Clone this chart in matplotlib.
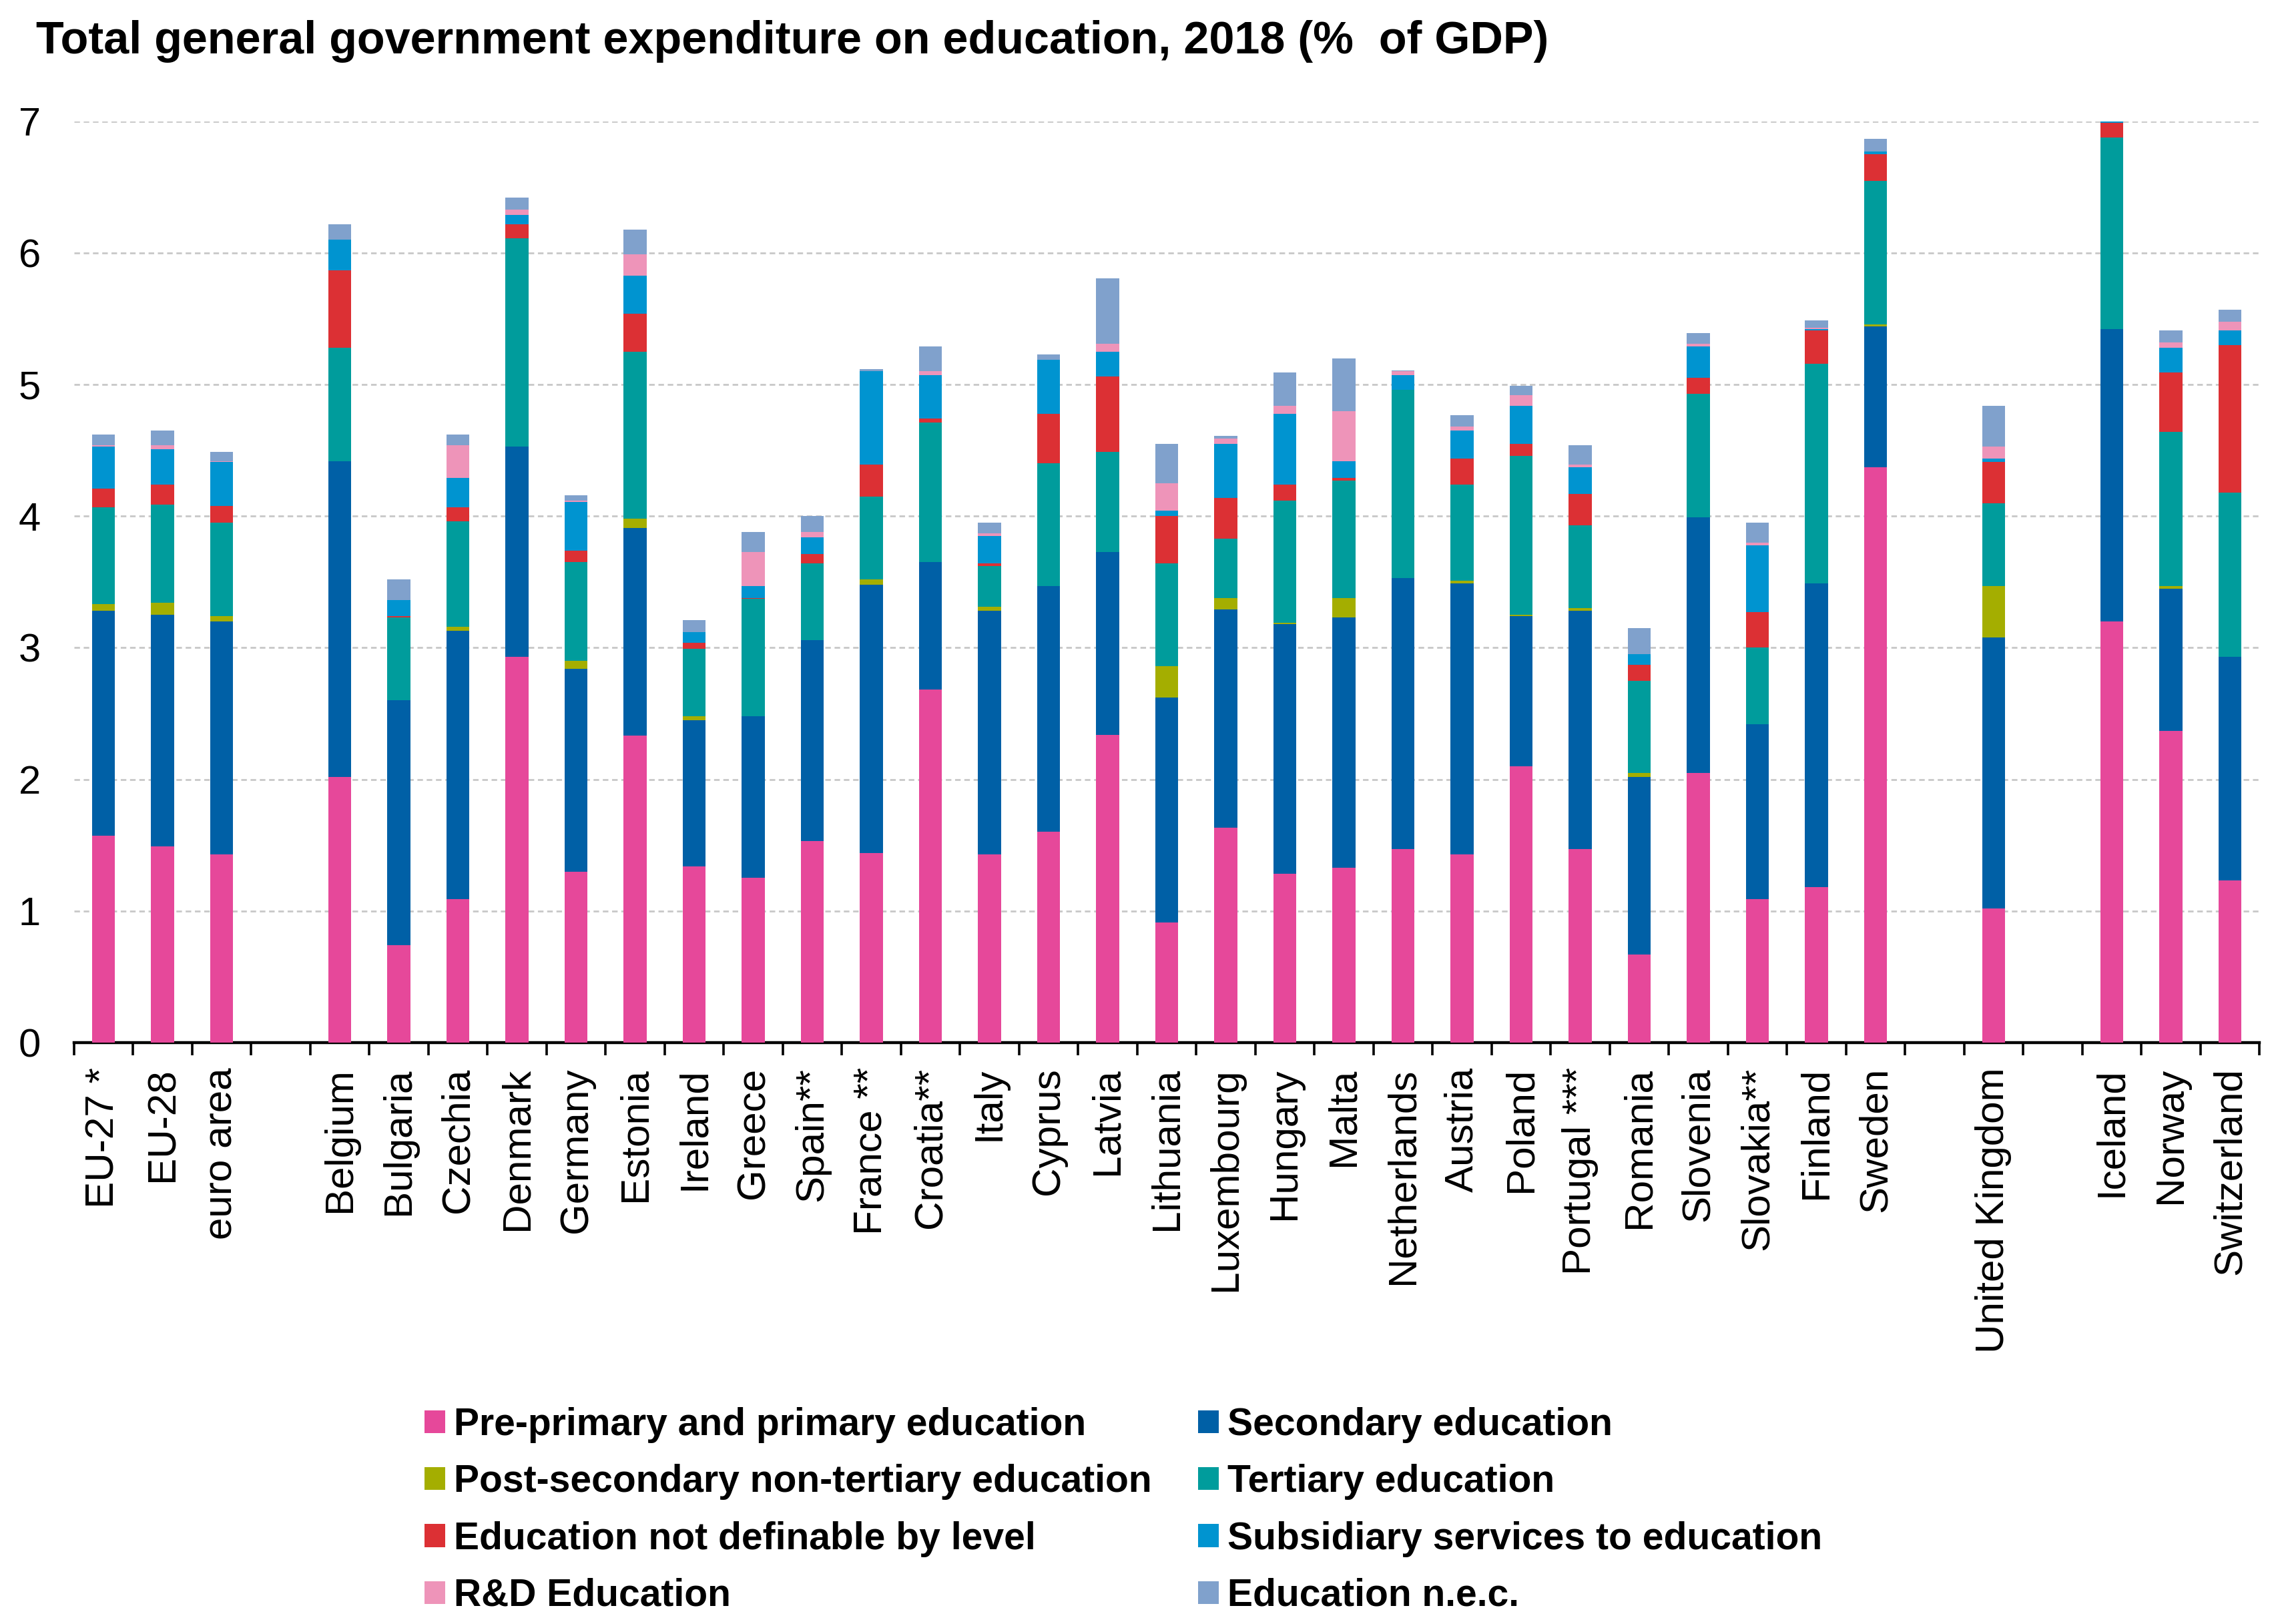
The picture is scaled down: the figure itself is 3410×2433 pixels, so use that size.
import numpy as np
import matplotlib
matplotlib.use("Agg")
import matplotlib.pyplot as plt
from matplotlib.patches import Patch

plt.rcParams['font.family'] = ['Liberation Sans', 'DejaVu Sans']

# categories (empty strings are the gap slots)
countries = ["EU-27 *", "EU-28", "euro area", "",
             "Belgium", "Bulgaria", "Czechia", "Denmark", "Germany", "Estonia",
             "Ireland", "Greece", "Spain**", "France **", "Croatia**", "Italy",
             "Cyprus", "Latvia", "Lithuania", "Luxembourg", "Hungary", "Malta",
             "Netherlands", "Austria", "Poland", "Portugal ***", "Romania",
             "Slovenia", "Slovakia**", "Finland", "Sweden", "",
             "United Kingdom", "", "Iceland", "Norway", "Switzerland"]

series_names = ["Pre-primary and primary education", "Secondary education",
                "Post-secondary non-tertiary education", "Tertiary education",
                "Education not definable by level", "Subsidiary services to education",
                "R&D Education", "Education n.e.c."]

# % of GDP, one list per series, in the order of countries
pre_primary = [1.57, 1.49, 1.43, 0,
               2.02, 0.74, 1.09, 2.93, 1.30, 2.33, 1.34, 1.25, 1.53, 1.44, 2.68, 1.43,
               1.60, 2.34, 0.91, 1.63, 1.28, 1.33, 1.47, 1.43, 2.10, 1.47, 0.67,
               2.05, 1.09, 1.18, 4.37, 0,
               1.02, 0, 3.20, 2.37, 1.23]
secondary = [1.71, 1.76, 1.77, 0,
             2.40, 1.86, 2.04, 1.60, 1.54, 1.58, 1.11, 1.23, 1.53, 2.04, 0.97, 1.85,
             1.87, 1.39, 1.71, 1.66, 1.90, 1.90, 2.06, 2.06, 1.14, 1.81, 1.35,
             1.94, 1.33, 2.31, 1.07, 0,
             2.06, 0, 2.22, 1.08, 1.70]
post_secondary = [0.05, 0.09, 0.04, 0,
                  0.00, 0.00, 0.03, 0.00, 0.06, 0.07, 0.03, 0.00, 0.00, 0.04, 0.00, 0.03,
                  0.00, 0.00, 0.24, 0.09, 0.01, 0.15, 0.00, 0.02, 0.01, 0.02, 0.03,
                  0.00, 0.00, 0.00, 0.02, 0,
                  0.39, 0, 0.00, 0.02, 0.00]
tertiary = [0.74, 0.75, 0.71, 0,
            0.86, 0.63, 0.80, 1.58, 0.75, 1.27, 0.51, 0.89, 0.58, 0.63, 1.06, 0.31,
            0.93, 0.76, 0.78, 0.45, 0.93, 0.89, 1.43, 0.73, 1.21, 0.63, 0.70,
            0.94, 0.58, 1.67, 1.09, 0,
            0.63, 0, 1.46, 1.17, 1.25]
not_definable = [0.14, 0.15, 0.13, 0,
                 0.59, 0.01, 0.11, 0.11, 0.09, 0.29, 0.05, 0.01, 0.07, 0.24, 0.03, 0.02,
                 0.38, 0.57, 0.36, 0.31, 0.12, 0.02, 0.00, 0.20, 0.09, 0.24, 0.12,
                 0.12, 0.27, 0.25, 0.20, 0,
                 0.31, 0, 0.11, 0.45, 1.12]
subsidiary = [0.32, 0.27, 0.33, 0,
              0.23, 0.12, 0.22, 0.07, 0.37, 0.29, 0.08, 0.09, 0.13, 0.71, 0.33, 0.21,
              0.41, 0.19, 0.04, 0.41, 0.54, 0.13, 0.11, 0.21, 0.29, 0.20, 0.08,
              0.24, 0.51, 0.01, 0.02, 0,
              0.03, 0, 0.02, 0.19, 0.11]
rd_education = [0.01, 0.03, 0.01, 0,
                0.00, 0.00, 0.25, 0.04, 0.01, 0.16, 0.00, 0.26, 0.04, 0.00, 0.03, 0.02,
                0.00, 0.06, 0.21, 0.04, 0.06, 0.38, 0.03, 0.03, 0.08, 0.02, 0.00,
                0.02, 0.02, 0.01, 0.00, 0,
                0.09, 0, 0.00, 0.04, 0.07]
nec = [0.08, 0.11, 0.07, 0,
       0.12, 0.16, 0.08, 0.09, 0.04, 0.19, 0.09, 0.15, 0.12, 0.02, 0.19, 0.08,
       0.04, 0.50, 0.30, 0.02, 0.25, 0.40, 0.01, 0.09, 0.07, 0.15, 0.20,
       0.08, 0.15, 0.06, 0.10, 0,
       0.31, 0, 0.00, 0.09, 0.09]

series = [pre_primary, secondary, post_secondary, tertiary,
          not_definable, subsidiary, rd_education, nec]
colors = ["#E6489A", "#0060A6", "#A4AE00", "#009C9C",
          "#DC3034", "#0094D0", "#EE94B9", "#80A1CC"]

fig = plt.figure(figsize=(17.05, 12.165), dpi=200)
ax = fig.add_axes([0.0325, 0.3581, 0.9602, 0.5671])

x = np.arange(len(countries))
bottom = np.zeros(len(countries))
for vals, col in zip(series, colors):
    vals = np.array(vals)
    ax.bar(x, vals, width=0.39, bottom=bottom, color=col, zorder=3)
    bottom += vals

ax.set_xlim(-0.5, len(countries) - 0.5)
ax.set_ylim(0, 7)
ax.set_yticks(range(0, 8))
ax.yaxis.grid(True, linestyle=(0, (3, 2)), color="#c8c8c8", linewidth=1.0, zorder=0)
ax.set_axisbelow(True)

ax.set_xticks(x)
ax.set_xticklabels(countries, rotation=90, fontsize=21.7)
ax.set_xticks(np.arange(len(countries) + 1) - 0.5, minor=True)
ax.tick_params(axis='x', which='major', length=0, pad=13.5)
ax.tick_params(axis='x', which='minor', length=7, width=1.3, direction='out', color='black')
ax.tick_params(axis='y', length=0, pad=18, labelsize=21.5)

for s in ['top', 'right', 'left']:
    ax.spines[s].set_visible(False)
ax.spines['bottom'].set_linewidth(1.6)

fig.text(0.0158, 0.967, "Total general government expenditure on education, 2018 (%  of GDP)",
         fontsize=24.6, fontweight='bold', va='baseline', ha='left')

handles = [Patch(facecolor=c, edgecolor='none') for c in colors]
leg_kw = dict(loc='upper left', frameon=False, borderpad=0, borderaxespad=0,
              handlelength=0.55, handleheight=0.55, handletextpad=0.22,
              labelspacing=0.55, prop={'weight': 'bold', 'size': 20.5})
leg1 = fig.legend(handles[0::2], series_names[0::2],
                  bbox_to_anchor=(636 / 3410, 1 - 2108 / 2433), **leg_kw)
leg2 = fig.legend(handles[1::2], series_names[1::2],
                  bbox_to_anchor=(1795 / 3410, 1 - 2108 / 2433), **leg_kw)

fig.savefig("out.png", dpi=200)
